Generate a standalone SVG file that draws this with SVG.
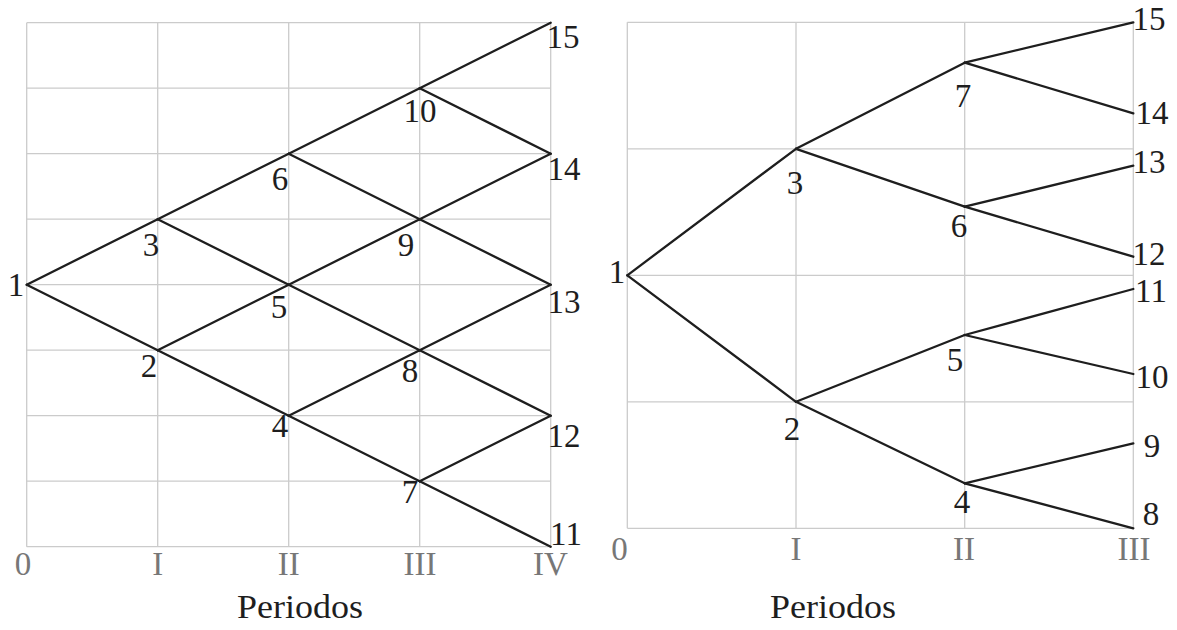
<svg xmlns="http://www.w3.org/2000/svg" width="1177" height="630" viewBox="0 0 1177 630">
<style>
.grid{stroke:#cbcbcb;stroke-width:1.3;fill:none}
.edge{stroke:#1e1e1e;stroke-width:2.3;fill:none;stroke-linecap:round}
text{font-family:'Liberation Serif','Times New Roman',serif}
.lbl{font-size:33px;fill:#1e1e1e;text-anchor:middle}
.ax{font-size:33px;fill:#777;text-anchor:middle}
.ttl{font-size:34px;fill:#1e1e1e;text-anchor:middle}
</style>
<rect width="1177" height="630" fill="#fff"/>
<g id="grid-left" class="grid">
<path d="M26.7 22.7V546.7M157.7 22.7V546.7M288.7 22.7V546.7M419.7 22.7V546.7M550.7 22.7V546.7"/>
<path d="M26.7 22.7H550.7M26.7 88.2H550.7M26.7 153.7H550.7M26.7 219.2H550.7M26.7 284.7H550.7M26.7 350.2H550.7M26.7 415.7H550.7M26.7 481.2H550.7M26.7 546.7H550.7"/>
</g>
<g id="grid-right" class="grid">
<path d="M627.3 22.3V528.3M796 22.3V528.3M964.7 22.3V528.3M1133.3 22.3V528.3"/>
<path d="M627.3 22.3H1133.3M627.3 148.8H1133.3M627.3 275.3H1133.3M627.3 401.8H1133.3M627.3 528.3H1133.3"/>
</g>
<g id="connectors" class="edge">
<line x1="26.7" y1="284.7" x2="157.7" y2="219.2"/>
<line x1="26.7" y1="284.7" x2="157.7" y2="350.2"/>
<line x1="157.7" y1="219.2" x2="288.7" y2="153.7"/>
<line x1="157.7" y1="219.2" x2="288.7" y2="284.7"/>
<line x1="157.7" y1="350.2" x2="288.7" y2="284.7"/>
<line x1="157.7" y1="350.2" x2="288.7" y2="415.7"/>
<line x1="288.7" y1="153.7" x2="419.7" y2="88.2"/>
<line x1="288.7" y1="153.7" x2="419.7" y2="219.2"/>
<line x1="288.7" y1="284.7" x2="419.7" y2="219.2"/>
<line x1="288.7" y1="284.7" x2="419.7" y2="350.2"/>
<line x1="288.7" y1="415.7" x2="419.7" y2="350.2"/>
<line x1="288.7" y1="415.7" x2="419.7" y2="481.2"/>
<line x1="419.7" y1="88.2" x2="550.7" y2="22.7"/>
<line x1="419.7" y1="88.2" x2="550.7" y2="153.7"/>
<line x1="419.7" y1="219.2" x2="550.7" y2="153.7"/>
<line x1="419.7" y1="219.2" x2="550.7" y2="284.7"/>
<line x1="419.7" y1="350.2" x2="550.7" y2="284.7"/>
<line x1="419.7" y1="350.2" x2="550.7" y2="415.7"/>
<line x1="419.7" y1="481.2" x2="550.7" y2="415.7"/>
<line x1="419.7" y1="481.2" x2="550.7" y2="546.7"/>
<line x1="627.3" y1="275.3" x2="796" y2="148.8"/>
<line x1="627.3" y1="275.3" x2="796" y2="401.8"/>
<line x1="796" y1="148.8" x2="964.7" y2="62.7"/>
<line x1="796" y1="148.8" x2="964.7" y2="206.7"/>
<line x1="796" y1="401.8" x2="964.7" y2="335"/>
<line x1="796" y1="401.8" x2="964.7" y2="483.3"/>
<line x1="964.7" y1="62.7" x2="1133.3" y2="22.3"/>
<line x1="964.7" y1="62.7" x2="1133.3" y2="113.3"/>
<line x1="964.7" y1="206.7" x2="1133.3" y2="165.7"/>
<line x1="964.7" y1="206.7" x2="1133.3" y2="256.7"/>
<line x1="964.7" y1="335" x2="1133.3" y2="289"/>
<line x1="964.7" y1="335" x2="1133.3" y2="374"/>
<line x1="964.7" y1="483.3" x2="1133.3" y2="443.3"/>
<line x1="964.7" y1="483.3" x2="1133.3" y2="528.3"/>
</g>
<g id="left-nodes">
<g id="L1"><text class="lbl" x="16" y="296">1</text></g>
<g id="L2"><text class="lbl" x="149" y="377">2</text></g>
<g id="L3"><text class="lbl" x="151" y="256">3</text></g>
<g id="L4"><text class="lbl" x="280" y="437">4</text></g>
<g id="L5"><text class="lbl" x="279" y="318">5</text></g>
<g id="L6"><text class="lbl" x="280" y="190">6</text></g>
<g id="L7"><text class="lbl" x="410" y="503">7</text></g>
<g id="L8"><text class="lbl" x="410" y="382">8</text></g>
<g id="L9"><text class="lbl" x="406" y="256">9</text></g>
<g id="L10"><text class="lbl" x="420" y="122">10</text></g>
<g id="L11"><text class="lbl" x="566" y="545">11</text></g>
<g id="L12"><text class="lbl" x="564" y="447">12</text></g>
<g id="L13"><text class="lbl" x="564" y="313">13</text></g>
<g id="L14"><text class="lbl" x="564" y="180">14</text></g>
<g id="L15"><text class="lbl" x="563" y="48">15</text></g>
</g>
<g id="right-nodes">
<g id="R1"><text class="lbl" x="617" y="283">1</text></g>
<g id="R2"><text class="lbl" x="792" y="440">2</text></g>
<g id="R3"><text class="lbl" x="795" y="194">3</text></g>
<g id="R4"><text class="lbl" x="962" y="513">4</text></g>
<g id="R5"><text class="lbl" x="955" y="371">5</text></g>
<g id="R6"><text class="lbl" x="959" y="237">6</text></g>
<g id="R7"><text class="lbl" x="963" y="107">7</text></g>
<g id="R8"><text class="lbl" x="1151" y="525">8</text></g>
<g id="R9"><text class="lbl" x="1152" y="457">9</text></g>
<g id="R10"><text class="lbl" x="1152" y="388">10</text></g>
<g id="R11"><text class="lbl" x="1151" y="302">11</text></g>
<g id="R12"><text class="lbl" x="1149" y="265">12</text></g>
<g id="R13"><text class="lbl" x="1149" y="173">13</text></g>
<g id="R14"><text class="lbl" x="1152" y="124">14</text></g>
<g id="R15"><text class="lbl" x="1149" y="30">15</text></g>
</g>
<g id="axis-left">
<text class="ax" x="23" y="575">0</text>
<text class="ax" x="157.7" y="575">I</text>
<text class="ax" x="288.7" y="575">II</text>
<text class="ax" x="420" y="575">III</text>
<text class="ax" x="550.5" y="575">IV</text>
<text class="ttl" x="300" y="618" textLength="126" lengthAdjust="spacingAndGlyphs">Periodos</text>
</g>
<g id="axis-right">
<text class="ax" x="619.5" y="560">0</text>
<text class="ax" x="796" y="560">I</text>
<text class="ax" x="964" y="560">II</text>
<text class="ax" x="1134" y="560">III</text>
<text class="ttl" x="833" y="618" textLength="126" lengthAdjust="spacingAndGlyphs">Periodos</text>
</g>
</svg>
